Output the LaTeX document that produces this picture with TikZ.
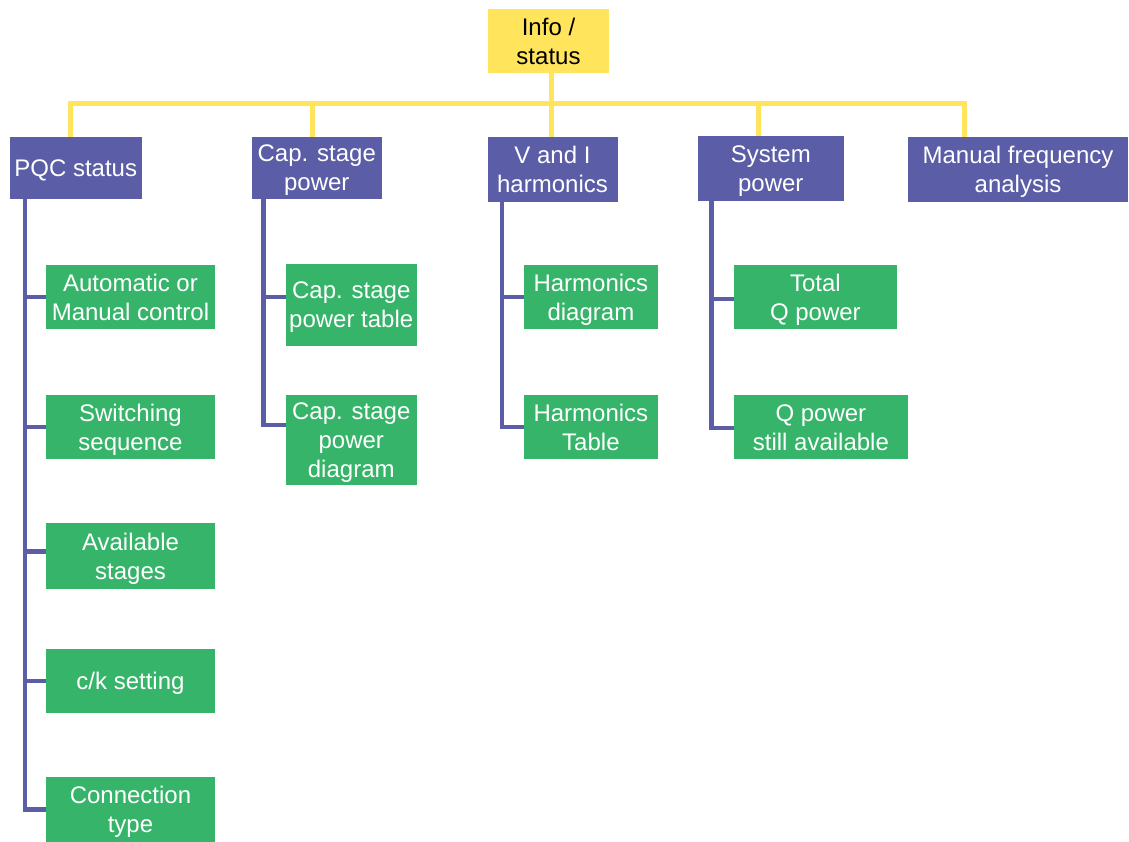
\documentclass[tikz,border=0pt]{standalone}
\usepackage{fontspec}
\setmainfont{Liberation Sans}
\usetikzlibrary{calc}
\definecolor{ylw}{RGB}{255,228,92}
\definecolor{prp}{RGB}{91,94,166}
\definecolor{grn}{RGB}{54,181,106}
\tikzset{
  box/.style={draw=none,inner sep=0pt,align=center,text depth=0pt,font=\fontsize{24}{29}\selectfont},
  topbox/.style={box,fill=ylw,text=black},
  midbox/.style={box,fill=prp,text=white},
  leafbox/.style={box,fill=grn,text=white},
  yl/.style={draw=ylw,line width=5pt},
  pl/.style={draw=prp,line width=4.5pt},
}
\begin{document}
\begin{tikzpicture}[x=1pt,y=-1pt]
\useasboundingbox (0,0) rectangle (1129,842);
% top
\node[topbox,minimum width=121pt,minimum height=64pt] (info) at (548.5,41) {Info /\\status};
% level 1
\node[midbox,minimum width=131.5pt,minimum height=62pt] (pqc) at (75.75,168) {PQC status};
\node[midbox,minimum width=129.6pt,minimum height=62pt] (cap) at (316.8,168) {Cap. stage\\power};
\node[midbox,minimum width=130pt,minimum height=64.7pt] (vi) at (552.5,169.4) {V and I\\harmonics};
\node[midbox,minimum width=145.6pt,minimum height=64.7pt] (sys) at (770.8,168.4) {System\\power};
\node[midbox,minimum width=220pt,minimum height=64.7pt] (man) at (1018,169.4) {Manual frequency\\analysis};
% leaves PQC
\node[leafbox,minimum width=169pt,minimum height=64.3pt] (auto) at (130.5,297.2) {Automatic or\\Manual control};
\node[leafbox,minimum width=169pt,minimum height=64.3pt] (switch) at (130.5,427.2) {Switching\\sequence};
\node[leafbox,minimum width=169pt,minimum height=66.3pt] (avail) at (130.5,556) {Available\\stages};
\node[leafbox,minimum width=169pt,minimum height=64.3pt] (ck) at (130.5,681.2) {c/k setting};
\node[leafbox,minimum width=169pt,minimum height=65.3pt] (conn) at (130.5,809.3) {Connection\\type};
% leaves Cap
\node[leafbox,minimum width=130.5pt,minimum height=81.7pt] (captab) at (351.25,304.9) {Cap. stage\\power table};
\node[leafbox,minimum width=130.5pt,minimum height=89.7pt] (capdia) at (351.25,439.9) {Cap. stage\\power\\diagram};
% leaves V and I
\node[leafbox,minimum width=133.7pt,minimum height=64.3pt] (hdia) at (590.9,297.2) {Harmonics\\diagram};
\node[leafbox,minimum width=133.7pt,minimum height=64.3pt] (htab) at (590.9,427.2) {Harmonics\\Table};
% leaves System
\node[leafbox,minimum width=162.7pt,minimum height=64.3pt] (totq) at (815.4,297.2) {Total\\Q power};
\node[leafbox,minimum width=173.7pt,minimum height=64.3pt] (qstill) at (820.9,427.2) {Q power\\still available};
% yellow tree
\coordinate (yb) at (551,104);
\coordinate (yl1) at (70.5,104);
\coordinate (yl2) at (312.5,104);
\coordinate (yl4) at (758,104);
\coordinate (yl5) at (964.5,104);
\draw[yl] (info.south -| yb) -- (yb);
\draw[yl] (yl1 |- pqc.north) -- (yl1) -- (yl5) -- (yl5 |- man.north);
\draw[yl] (yl2) -- (yl2 |- cap.north);
\draw[yl] (yb) -- (yb |- vi.north);
\draw[yl] (yl4) -- (yl4 |- sys.north);
% purple trees
\coordinate (px1) at (25,0);
\coordinate (px2) at (263.5,0);
\coordinate (px3) at (502,0);
\coordinate (px4) at (711.5,0);
\draw[pl] (px1 |- pqc.south) |- (auto.west);
\draw[pl] (px1 |- pqc.south) |- (switch.west);
\draw[pl] (px1 |- pqc.south) |- ([yshift=-29pt]avail.north west);
\draw[pl] (px1 |- pqc.south) |- (ck.west);
\draw[pl] (px1 |- pqc.south) |- (conn.west);
\draw[pl] (px2 |- cap.south) |- ([yshift=-33pt]captab.north west);
\draw[pl] (px2 |- cap.south) |- ([yshift=-30pt]capdia.north west);
\draw[pl] (px3 |- vi.south) |- (hdia.west);
\draw[pl] (px3 |- vi.south) |- (htab.west);
\draw[pl] (px4 |- sys.south) |- ([yshift=-34pt]totq.north west);
\draw[pl] (px4 |- sys.south) |- ([yshift=-33pt]qstill.north west);
\end{tikzpicture}
\end{document}
